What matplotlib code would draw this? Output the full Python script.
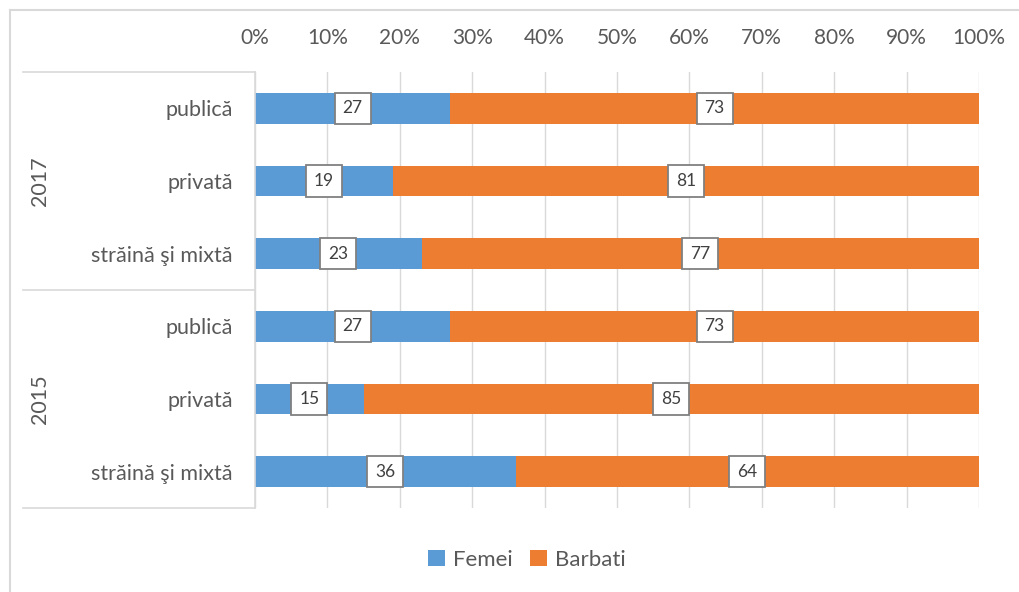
import matplotlib
matplotlib.use("Agg")
import matplotlib.pyplot as plt
from matplotlib.lines import Line2D
from matplotlib.ticker import FuncFormatter

categories = ["publică", "privată", "străină şi mixtă", "publică", "privată", "străină şi mixtă"]
years = ["2017", "2015"]
femei = [27, 19, 23, 27, 15, 36]
barbati = [73, 81, 77, 73, 85, 64]
xticks = [0, 10, 20, 30, 40, 50, 60, 70, 80, 90, 100]

BLUE = "#5B9BD5"
ORANGE = "#ED7D31"
TXT = "#595959"
GRID = "#D9D9D9"
FONT = ["Lato", "DejaVu Sans"]
plt.rcParams['font.family'] = FONT

W, H = 1020, 592
fig = plt.figure(figsize=(W / 100, H / 100), dpi=100)
L, R, T, B = 255, 979, 72, 508
ax = fig.add_axes([L / W, 1 - B / H, (R - L) / W, (B - T) / H])

y = list(range(len(categories)))
bh = 0.42
ax.barh(y, femei, height=bh, color=BLUE, label="Femei", zorder=2)
ax.barh(y, barbati, left=femei, height=bh, color=ORANGE, label="Barbati", zorder=2)

for i in y:
    for start, val in ((0, femei[i]), (femei[i], barbati[i])):
        ax.text(start + val / 2, i, f"{val}", ha="center", va="center", fontsize=12.5,
                color="#404040", zorder=4,
                bbox=dict(boxstyle="square,pad=0.45", fc="white", ec="#808080", lw=1.3))

ax.set_xlim(0, 100)
ax.set_ylim(len(categories) - 0.5, -0.5)
ax.set_xticks(xticks)
ax.xaxis.set_major_formatter(FuncFormatter(lambda v, p: f"{int(v)}%"))
ax.xaxis.tick_top()
ax.tick_params(axis="x", length=0, pad=17, labelsize=15, labelcolor=TXT)
ax.grid(axis="x", color=GRID, lw=1, zorder=0)
ax.set_yticks(y)
ax.set_yticklabels(categories)
ax.tick_params(axis="y", length=0, pad=16, labelsize=15.5, labelcolor=TXT)
for s in ("top", "right", "bottom"):
    ax.spines[s].set_visible(False)
ax.spines["left"].set_color(GRID)
ax.spines["left"].set_linewidth(1.2)

# group separators
for yy in (72, 290, 508):
    fig.add_artist(Line2D([23 / W, L / W], [1 - yy / H, 1 - yy / H], color=GRID, lw=1.2))
for k, yr in enumerate(years):
    yc = (72 + 290) / 2 if k == 0 else (290 + 508) / 2
    fig.text(40 / W, 1 - yc / H, yr, rotation=90, ha="center", va="center",
             fontsize=15.5, color=TXT)

# figure border (left and top edges)
fig.add_artist(Line2D([10 / W, 10 / W], [0, 1 - 10 / H], color=GRID, lw=1.5))
fig.add_artist(Line2D([10 / W, 1], [1 - 10 / H, 1 - 10 / H], color=GRID, lw=1.5))

leg = fig.legend(loc="center", bbox_to_anchor=(527 / W, 1 - 560 / H), ncol=2, frameon=False,
                 fontsize=16, handlelength=0.75, handleheight=0.75, handletextpad=0.35,
                 columnspacing=0.8)
for t in leg.get_texts():
    t.set_color(TXT)

fig.savefig("out.png", dpi=100)
